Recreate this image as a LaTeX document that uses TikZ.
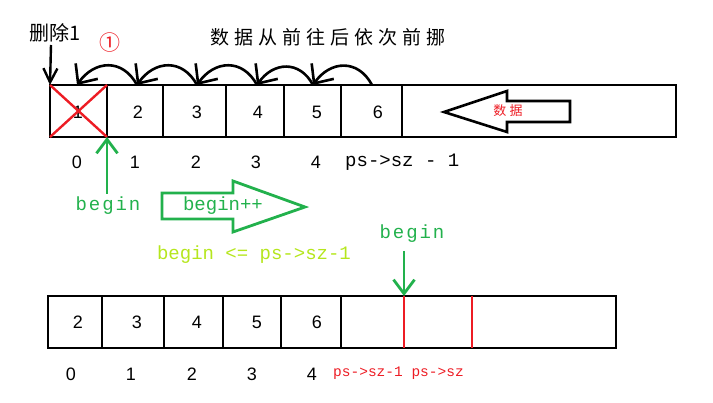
\documentclass[tikz,border=0pt]{standalone}
\usepackage{fontspec}
\setmainfont{Liberation Sans}
\newfontfamily\cjk{Noto Sans CJK SC}
\newfontfamily\cjksp[LetterSpace=26]{Noto Sans CJK SC}
\newfontfamily\monof{Liberation Mono}
\newfontfamily\monosp[LetterSpace=10]{Liberation Mono}
\usetikzlibrary{arrows.meta}
\definecolor{pred}{HTML}{ED1C24}
\definecolor{pgreen}{HTML}{22B14C}
\definecolor{plime}{HTML}{B5E61D}
\tikzset{
  cell/.style={draw, line width=2.6pt, inner sep=0pt, outer sep=0pt, minimum height=52pt},
  num/.style={inner sep=0pt, font=\fontsize{18}{20}\selectfont},
  idx/.style={inner sep=0pt, font=\fontsize{18}{20}\selectfont},
  hop/.style={line width=2.6pt, -{Straight Barb[length=15pt,width=27pt]}, looseness=1.3},
  blkarrow/.style={line width=2.4pt, -{Straight Barb[length=14pt,width=14pt]}},
  grnarrow/.style={pgreen, line width=2.8pt, -{Straight Barb[length=14pt,width=21pt]}},
}
\begin{document}
\begin{tikzpicture}[x=1pt,y=1pt]
\useasboundingbox (0,0) rectangle (713,-403);
% ---------- top array ----------
\node[cell, minimum width=57pt]  (c1) at (78.5,-111) {};
\node[cell, minimum width=56pt]  (c2) at (135,-111) {};
\node[cell, minimum width=63pt]  (c3) at (194.5,-111) {};
\node[cell, minimum width=58pt]  (c4) at (255,-111) {};
\node[cell, minimum width=57pt]  (c5) at (312.5,-111) {};
\node[cell, minimum width=61pt]  (c6) at (371.5,-111) {};
\node[cell, minimum width=274pt] (c7) at (539,-111) {};
\node[num] (n1) at (78,-112) {1};
\node[num] (n2) at (138,-112) {2};
\node[num] (n3) at (197,-112) {3};
\node[num] (n4) at (258,-112) {4};
\node[num] (n5) at (317,-112) {5};
\node[num] (n6) at (378,-112) {6};
% red cross
\draw[pred, line width=2.4pt] (c1.north west) -- (c1.south east);
\draw[pred, line width=2.4pt] (c1.north east) -- (c1.south west);
% hop arrows
\coordinate (a1) at (77,-85);
\coordinate (a2) at (137,-85);
\coordinate (a3) at (197,-85);
\coordinate (a4) at (257,-85);
\coordinate (a5) at (313,-85);
\coordinate (a6) at (372,-85);
\draw[hop] (a6) to[out=118,in=55] (a5);
\draw[hop] (a5) to[out=118,in=55] (a4);
\draw[hop] (a4) to[out=118,in=55] (a3);
\draw[hop] (a3) to[out=118,in=55] (a2);
\draw[hop] (a2) to[out=118,in=55] (a1);
% labels above
\node[inner sep=0pt, font=\cjk\fontsize{20}{22}\selectfont] (del) at (55,-33) {删除1};
\coordinate (delstart) at (51,-45);
\draw[blkarrow] (delstart) -- (c1.north west);
\node[inner sep=0pt, text=pred, font=\cjk\fontsize{21}{22}\selectfont] (circ) at (110,-43) {①};
\node[inner sep=0pt, font=\cjksp\fontsize{19}{20}\selectfont] (title) at (328,-37) {数据从前往后依次前挪};
% data arrow
\draw[line width=2.6pt, line join=miter] (444,-112) -- (507,-91) -- (507,-101) -- (570,-101) -- (570,-122) -- (507,-122) -- (507,-132) -- cycle;
\node[inner sep=0pt, text=pred, font=\cjksp\fontsize{13}{14}\selectfont] (data) at (508,-111) {数据};
% indices
\node[idx] (i0) at (77,-162) {0};
\node[idx] (i1) at (135,-162) {1};
\node[idx] (i2) at (196,-162) {2};
\node[idx] (i3) at (256,-162) {3};
\node[idx] (i4) at (316,-162) {4};
\node[inner sep=0pt, anchor=west, font=\monof\fontsize{19}{20}\selectfont] (szm1) at (345,-162) {ps->sz - 1};
% begin pointer
\node[inner sep=0pt, text=pgreen, font=\monosp\fontsize{19}{20}\selectfont] (b1) at (108,-206) {begin};
\coordinate (b1s) at (107,-194);
\draw[grnarrow] (b1s) -- (c1.south east);
% begin++ arrow
\draw[pgreen, line width=2.8pt, line join=miter] (162,-193) -- (233,-193) -- (233,-181) -- (305,-207) -- (233,-232) -- (233,-219) -- (162,-219) -- cycle;
\node[inner sep=0pt, text=pgreen, font=\monof\fontsize{19}{20}\selectfont] (bpp) at (223,-206) {begin++};
\node[inner sep=0pt, text=plime, font=\monof\fontsize{19}{20}\selectfont] (cond) at (254,-255) {begin <= ps->sz-1};
% ---------- bottom array ----------
\node[cell, minimum width=54pt]  (d1) at (75,-322) {};
\node[cell, minimum width=62pt]  (d2) at (133,-322) {};
\node[cell, minimum width=59pt]  (d3) at (193.5,-322) {};
\node[cell, minimum width=58pt]  (d4) at (252,-322) {};
\node[cell, minimum width=60pt]  (d5) at (311,-322) {};
\node[cell, minimum width=275pt] (d6) at (478.5,-322) {};
\node[num] (m2) at (78,-322) {2};
\node[num] (m3) at (137,-322) {3};
\node[num] (m4) at (197,-322) {4};
\node[num] (m5) at (257,-322) {5};
\node[num] (m6) at (317,-322) {6};
\coordinate (r1t) at (404,-296);
\coordinate (r1b) at (404,-348);
\coordinate (r2t) at (472,-296);
\coordinate (r2b) at (472,-348);
\draw[pred, line width=2.6pt] (r1t) -- (r1b);
\draw[pred, line width=2.6pt] (r2t) -- (r2b);
\node[inner sep=0pt, text=pgreen, font=\monosp\fontsize{19}{20}\selectfont] (b2) at (412,-234) {begin};
\coordinate (b2s) at (404,-251);
\draw[grnarrow] (b2s) -- (r1t);
\node[idx] (j0) at (71,-374) {0};
\node[idx] (j1) at (131,-374) {1};
\node[idx] (j2) at (192,-374) {2};
\node[idx] (j3) at (252,-374) {3};
\node[idx] (j4) at (312,-374) {4};
\node[inner sep=0pt, anchor=west, text=pred, font=\monof\fontsize{14.5}{16}\selectfont] (szr) at (333,-373) {ps->sz-1 ps->sz};
\end{tikzpicture}
\end{document}
